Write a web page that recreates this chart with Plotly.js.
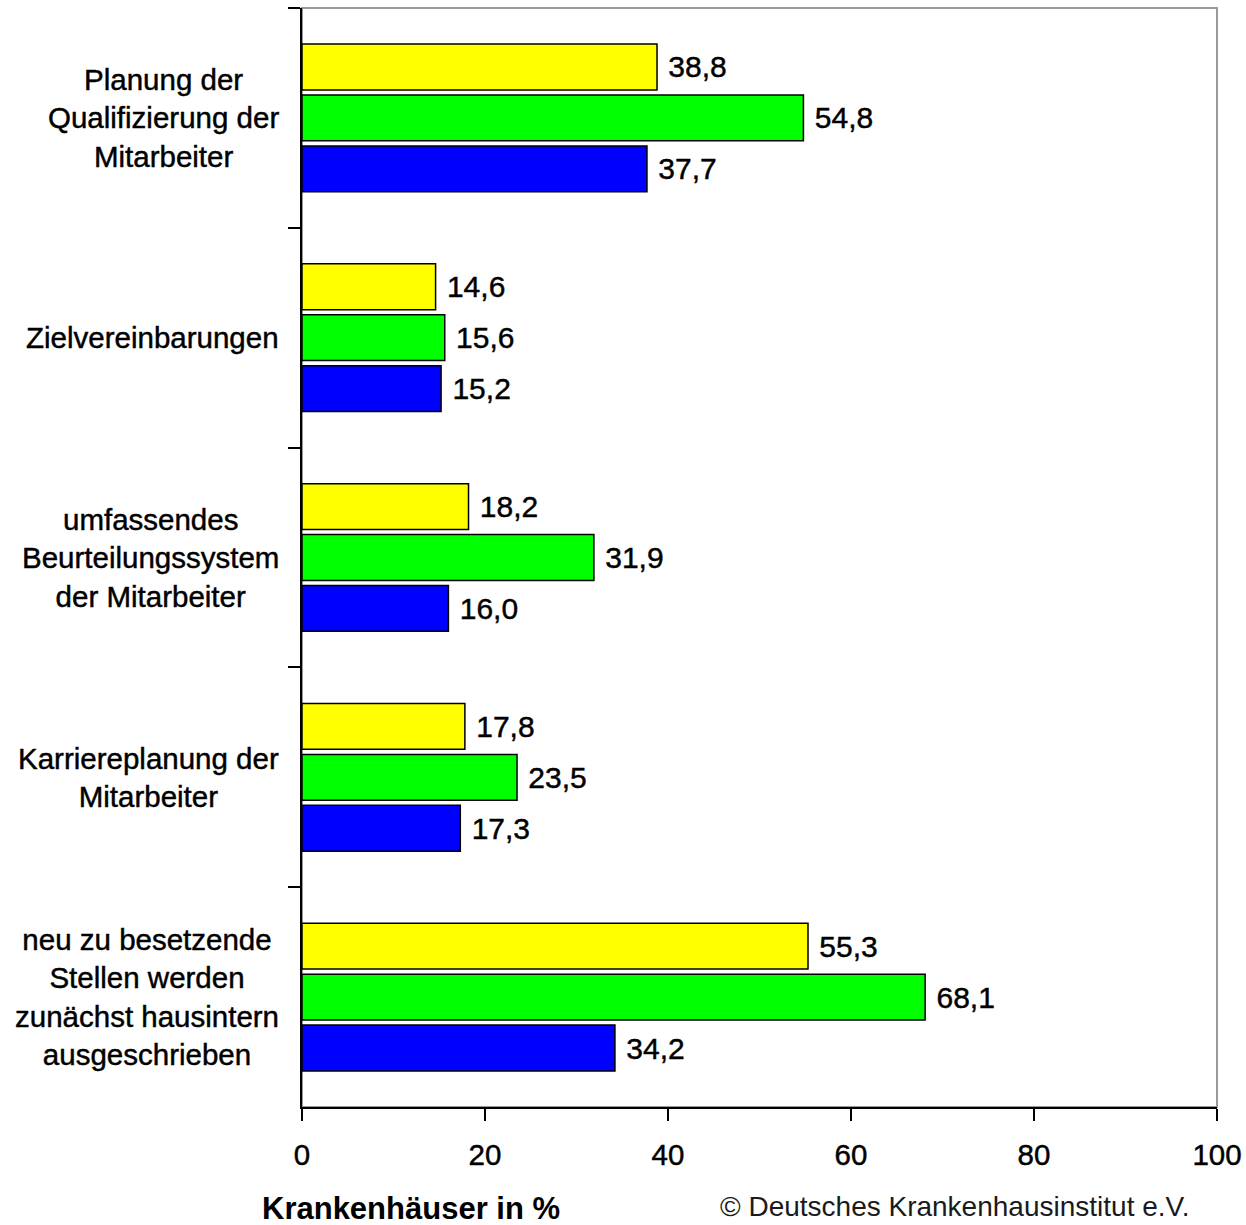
<!DOCTYPE html>
<html>
<head>
<meta charset="utf-8">
<script src="https://cdn.plot.ly/plotly-3.0.1.min.js"></script>
<style>
  html, body { margin: 0; padding: 0; background: #fff; }
  #chart { width: 1246px; height: 1225px; }
  #chart .xtick text, #chart .bartext, #chart .annotation text { stroke: #000; stroke-width: 0.45px; }
  #chart .annotation[data-index="5"] text, #chart .annotation[data-index="6"] text { stroke: none; }
</style>
</head>
<body>
<div id="chart"></div>
<script>
// Categories (top to bottom)
const categories = [
  "Planung der<br>Qualifizierung der<br>Mitarbeiter",
  "Zielvereinbarungen",
  "umfassendes<br>Beurteilungssystem<br>der Mitarbeiter",
  "Karriereplanung der<br>Mitarbeiter",
  "neu zu besetzende<br>Stellen werden<br>zunächst hausintern<br>ausgeschrieben"
];
// Series values (yellow, green, blue)
const seriesYellow = [38.8, 14.6, 18.2, 17.8, 55.3];
const seriesGreen  = [54.8, 15.6, 31.9, 23.5, 68.1];
const seriesBlue   = [37.7, 15.2, 16.0, 17.3, 34.2];
const tickValues = [0, 20, 40, 60, 80, 100];
const axisTitle = "Krankenhäuser in %";
const sourceText = "© Deutsches Krankenhausinstitut e.V.";

const FONT = "Liberation Sans, Arial, sans-serif";

function makeTrace(vals, color) {
  return {
    type: 'bar',
    orientation: 'h',
    y: categories,
    x: vals,
    marker: { color: color, line: { color: '#000', width: 1.5 } },
    texttemplate: '\u00a0%{x:.1f}',
    textposition: 'outside',
    textfont: { family: FONT, size: 30, color: '#000' },
    cliponaxis: false,
    hoverinfo: 'skip'
  };
}

const data = [
  makeTrace(seriesYellow, '#FFFF00'),
  makeTrace(seriesGreen, '#00FF00'),
  makeTrace(seriesBlue, '#0000FF')
];

const annotations = categories.map(c => ({
  xref: 'paper', yref: 'y',
  x: -0.023, y: c,
  xanchor: 'right', yanchor: 'middle',
  align: 'center',
  text: c,
  showarrow: false,
  font: { family: FONT, size: 29.5, color: '#000' }
}));
annotations.push({
  xref: 'paper', yref: 'paper',
  x: -0.0459, y: -0.0925,
  xanchor: 'left', yanchor: 'middle',
  text: '<b>' + axisTitle + '</b>',
  showarrow: false,
  font: { family: FONT, size: 31, color: '#000' }
});
annotations.push({
  xref: 'paper', yref: 'paper',
  x: (718 - 302) / 915, y: -0.0909,
  xanchor: 'left', yanchor: 'middle',
  text: sourceText,
  showarrow: false,
  font: { family: FONT, size: 28, color: '#1a1a1a' }
});

const layout = {
  width: 1246,
  height: 1225,
  margin: { l: 302, r: 29, t: 8, b: 118 },
  paper_bgcolor: '#fff',
  plot_bgcolor: '#fff',
  separators: ',.',
  barmode: 'group',
  bargap: 0.305,
  bargroupgap: 0.1,
  showlegend: false,
  font: { family: FONT, color: '#000' },
  xaxis: {
    range: [0, 100],
    tickvals: tickValues,
    ticks: 'outside',
    ticklen: 12,
    tickwidth: 2,
    tickcolor: '#000',
    showline: true,
    linecolor: '#000',
    linewidth: 2,
    showgrid: false,
    zeroline: false,
    tickfont: { family: FONT, size: 29.5, color: '#000' },
    ticklabelstandoff: 9,
    fixedrange: true
  },
  yaxis: {
    type: 'category',
    autorange: 'reversed',
    ticks: 'outside',
    tickson: 'boundaries',
    ticklen: 12,
    tickwidth: 2,
    tickcolor: '#000',
    showline: true,
    linecolor: '#000',
    linewidth: 2,
    showgrid: false,
    zeroline: false,
    showticklabels: false,
    fixedrange: true
  },
  shapes: [{
    type: 'rect', xref: 'paper', yref: 'paper',
    x0: 0, x1: 1, y0: 0, y1: 1,
    line: { color: '#999', width: 2 },
    layer: 'below'
  }],
  annotations: annotations
};

Plotly.newPlot('chart', data, layout, { staticPlot: true, displayModeBar: false });
</script>
</body>
</html>
